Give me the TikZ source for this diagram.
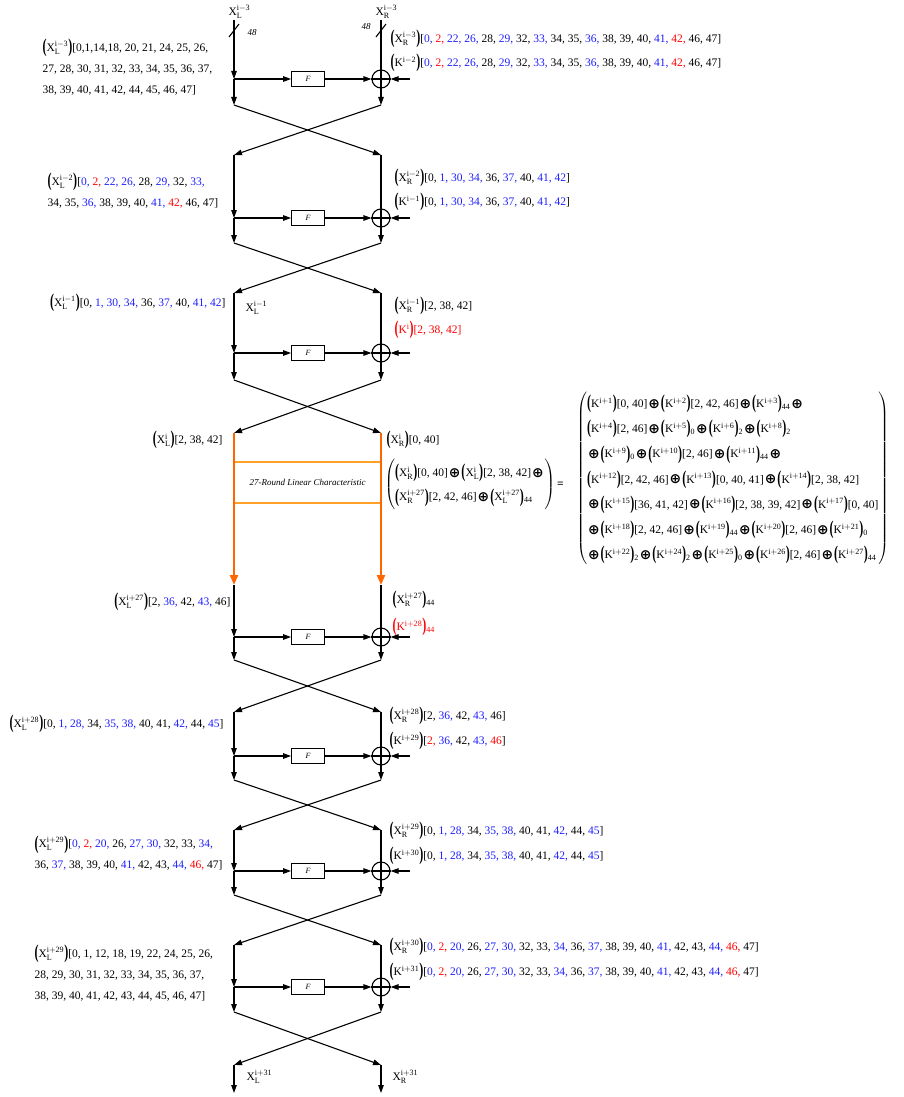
\documentclass[tikz,border=0pt]{standalone}
\usepackage{fontspec}
\usepackage{amsmath}
\setmainfont{Liberation Serif}
\newfontfamily\symf{DejaVu Sans}
\usetikzlibrary{arrows.meta}

\definecolor{lnorange}{RGB}{255,102,0}
\definecolor{bxorange}{RGB}{255,160,40}
\definecolor{nblue}{RGB}{30,30,255}
\definecolor{nred}{RGB}{255,0,0}

\newcommand{\bn}[1]{\textcolor{nblue}{#1}}
\newcommand{\rn}[1]{\textcolor{nred}{#1}}
\newcommand{\lp}{\raisebox{-1.2pt}{\scalebox{1.05}[1.7]{\textbf{(}}}}
\newcommand{\rp}{\raisebox{-1.2pt}{\scalebox{1.05}[1.7]{\textbf{)}}}}
\newcommand{\xo}{\kern1pt\raisebox{-0.6pt}{\scalebox{1.2}{\symf\bfseries\symbol{"2295}}}\kern1pt}
\newcommand{\px}[2]{\lp$\mathrm{X}^{\mathrm{#1}}_{\mathrm{#2}}$\rp}
\newcommand{\pxs}[3]{\lp$\mathrm{X}^{\mathrm{#1}}_{\mathrm{#2}}$\rp\textsubscript{#3}}
\newcommand{\pk}[1]{\lp$\mathrm{K}^{\mathrm{#1}}$\rp}
\newcommand{\pks}[2]{\lp$\mathrm{K}^{\mathrm{#1}}$\rp\textsubscript{#2}}
\newcommand{\vx}[2]{$\mathrm{X}^{\mathrm{#1}}_{\mathrm{#2}}$}

\begin{document}
\begin{tikzpicture}[x=1pt,y=-1pt,line width=1.1pt,
  arr/.style={-{Triangle[length=8pt,width=5.5pt]}},
  oarr/.style={lnorange,line width=2.2pt,-{Triangle[length=10pt,width=8pt]}},
  fbox/.style={draw,line width=0.8pt,minimum width=33pt,minimum height=15pt,inner sep=0pt,font=\fontsize{8}{9}\selectfont\itshape},
  xorc/.style={draw,circle,minimum size=18pt,inner sep=0pt},
  lbl/.style={inner sep=0pt,align=left,font=\fontsize{11.5}{21}\selectfont},
  eqn/.style={inner sep=0pt,font=\fontsize{11.5}{21}\selectfont}]
\useasboundingbox (0,0) rectangle (904,1097);

% rounds: number / top / F / bottom / next top
\foreach \n/\yt/\yf/\yb/\yn in {1/20/79/105/155, 2/155/218/243/293, 3/293/353/380/433,
    27/585/637/660/712, 28/712/756/780/830, 29/830/871/895/945, 30/945/987/1012/1065}{
  \coordinate (lt\n) at (234,\yt);
  \coordinate (rt\n) at (381,\yt);
  \coordinate (lj\n) at (234,\yf);
  \coordinate (lb\n) at (234,\yb);
  \coordinate (rb\n) at (381,\yb);
  \coordinate (ln\n) at (234,\yn);
  \coordinate (rn\n) at (381,\yn);
  \coordinate (k\n) at (410,\yf);
  \node[fbox] (f\n) at (308,\yf) {F};
  \node[xorc] (x\n) at (381,\yf) {};
  \draw (x\n.north) -- (x\n.south) (x\n.west) -- (x\n.east);
  \draw[arr] (lt\n) -- (lj\n);
  \draw[arr] (lj\n) -- (lb\n);
  \draw[arr] (lj\n) -- (f\n);
  \draw[arr] (f\n) -- (x\n);
  \draw[arr] (k\n) -- (x\n);
  \draw (rt\n) -- (x\n);
  \draw[arr] (x\n) -- (rb\n);
  \draw[arr] (lb\n) -- (rn\n);
  \draw[arr] (rb\n) -- (ln\n);
}

% top inputs
\node[lbl,anchor=west] (inl) at (228,12) {\vx{i-3}{L}};
\node[lbl,anchor=west] (inr) at (375,12) {\vx{i-3}{R}};
\coordinate (sla) at (229,37);
\coordinate (slb) at (239,24);
\coordinate (sra) at (376,37);
\coordinate (srb) at (386,24);
\draw (sla) -- (slb);
\draw (sra) -- (srb);
\node[lbl,font=\fontsize{9}{10}\selectfont\itshape] (wl) at (252,33) {48};
\node[lbl,font=\fontsize{9}{10}\selectfont\itshape] (wr) at (366,27) {48};

% round 1
\node[lbl,anchor=west] (tl1) at (42,67) {\px{i-3}{L}[0,1,14,18, 20, 21, 24, 25, 26,\\27, 28, 30, 31, 32, 33, 34, 35, 36, 37,\\38, 39, 40, 41, 42, 44, 45, 46, 47]};
\node[lbl,anchor=west] (tr1) at (390,39) {\px{i-3}{R}[\bn{0,} \rn{2,} \bn{22, 26,} 28, \bn{29,} 32, \bn{33,} 34, 35, \bn{36,} 38, 39, 40, \bn{41,} \rn{42,} 46, 47]};
\node[lbl,anchor=west] (tk1) at (390,63) {\pk{i-2}[\bn{0,} \rn{2,} \bn{22, 26,} 28, \bn{29,} 32, \bn{33,} 34, 35, \bn{36,} 38, 39, 40, \bn{41,} \rn{42,} 46, 47]};

% round 2
\node[lbl,anchor=west] (tl2) at (47,191) {\px{i-2}{L}[\bn{0,} \rn{2,} \bn{22, 26,} 28, \bn{29,} 32, \bn{33,}\\34, 35, \bn{36,} 38, 39, 40, \bn{41,} \rn{42,} 46, 47]};
\node[lbl,anchor=west] (tr2) at (394,178) {\px{i-2}{R}[0, \bn{1, 30, 34,} 36, \bn{37,} 40, \bn{41, 42}]};
\node[lbl,anchor=west] (tk2) at (394,202) {\pk{i-1}[0, \bn{1, 30, 34,} 36, \bn{37,} 40, \bn{41, 42}]};

% round 3
\node[lbl,anchor=east] (tl3) at (226,303) {\px{i-1}{L}[0, \bn{1, 30, 34,} 36, \bn{37,} 40, \bn{41, 42}]};
\node[lbl,anchor=west] (xl3) at (245,308) {\vx{i-1}{L}};
\node[lbl,anchor=west] (tr3) at (394,306) {\px{i-1}{R}[2, 38, 42]};
\node[lbl,anchor=west,nred] (tk3) at (394,330) {\pk{i}[2, 38, 42]};

% linear characteristic
\node[draw=bxorange,line width=1.2pt,minimum width=147pt,minimum height=41pt,inner sep=0pt,
  font=\fontsize{9}{10}\selectfont\itshape] (lin) at (307.5,482.5) {27-Round Linear Characteristic};
\draw[oarr] (ln3) -- (lt27);
\draw[oarr] (rn3) -- (rt27);
\node[lbl,anchor=east] (tli) at (223,440) {\px{i}{L}[2, 38, 42]};
\node[lbl,anchor=west] (tri) at (386,440) {\px{i}{R}[0, 40]};
\node[eqn,anchor=west] (eql) at (384,484) {\renewcommand{\arraystretch}{1.15}$\left(\begin{tabular}{@{}l@{}}
  \px{i}{R}[0, 40]\xo\px{i}{L}[2, 38, 42]\xo\\
  \px{i+27}{R}[2, 42, 46]\xo\pxs{i+27}{L}{44}\end{tabular}\right)$\,\textbf{=}};
\node[eqn,anchor=west] (eqr) at (576,478) {\renewcommand{\arraystretch}{1.2}$\left(\begin{tabular}{@{}l@{}}
  \pk{i+1}[0, 40]\xo\pk{i+2}[2, 42, 46]\xo\pks{i+3}{44}\xo\\
  \pk{i+4}[2, 46]\xo\pks{i+5}{0}\xo\pks{i+6}{2}\xo\pks{i+8}{2}\\
  \xo\pks{i+9}{0}\xo\pk{i+10}[2, 46]\xo\pks{i+11}{44}\xo\\
  \pk{i+12}[2, 42, 46]\xo\pk{i+13}[0, 40, 41]\xo\pk{i+14}[2, 38, 42]\\
  \xo\pk{i+15}[36, 41, 42]\xo\pk{i+16}[2, 38, 39, 42]\xo\pk{i+17}[0, 40]\\
  \xo\pk{i+18}[2, 42, 46]\xo\pks{i+19}{44}\xo\pk{i+20}[2, 46]\xo\pks{i+21}{0}\\
  \xo\pks{i+22}{2}\xo\pks{i+24}{2}\xo\pks{i+25}{0}\xo\pk{i+26}[2, 46]\xo\pks{i+27}{44}\end{tabular}\right)$};

% round i+27
\node[lbl,anchor=east] (tl27) at (231,602) {\px{i+27}{L}[2, \bn{36,} 42, \bn{43,} 46]};
\node[lbl,anchor=west] (tr27) at (392,600) {\pxs{i+27}{R}{44}};
\node[lbl,anchor=west,nred] (tk27) at (392,627) {\pks{i+28}{44}};

% round i+28
\node[lbl,anchor=west] (tl28) at (9,724) {\px{i+28}{L}[0, \bn{1, 28,} 34, \bn{35, 38,} 40, 41, \bn{42,} 44, \bn{45}]};
\node[lbl,anchor=west] (tr28) at (389,716) {\px{i+28}{R}[2, \bn{36,} 42, \bn{43,} 46]};
\node[lbl,anchor=west] (tk28) at (389,741) {\pk{i+29}[\rn{2,} \bn{36,} 42, \bn{43,} \rn{46}]};

% round i+29
\node[lbl,anchor=west] (tl29) at (34,853) {\px{i+29}{L}[\bn{0,} \rn{2,} \bn{20,} 26, \bn{27, 30,} 32, 33, \bn{34,}\\36, \bn{37,} 38, 39, 40, \bn{41,} 42, 43, \bn{44,} \rn{46,} 47]};
\node[lbl,anchor=west] (tr29) at (389,831) {\px{i+29}{R}[0, \bn{1, 28,} 34, \bn{35, 38,} 40, 41, \bn{42,} 44, \bn{45}]};
\node[lbl,anchor=west] (tk29) at (389,856) {\pk{i+30}[0, \bn{1, 28,} 34, \bn{35, 38,} 40, 41, \bn{42,} 44, \bn{45}]};

% round i+30
\node[lbl,anchor=west] (tl30) at (34,973) {\px{i+29}{L}[0, 1, 12, 18, 19, 22, 24, 25, 26,\\28, 29, 30, 31, 32, 33, 34, 35, 36, 37,\\38, 39, 40, 41, 42, 43, 44, 45, 46, 47]};
\node[lbl,anchor=west] (tr30) at (389,947) {\px{i+30}{R}[\bn{0,} \rn{2,} \bn{20,} 26, \bn{27, 30,} 32, 33, \bn{34,} 36, \bn{37,} 38, 39, 40, \bn{41,} 42, 43, \bn{44,} \rn{46,} 47]};
\node[lbl,anchor=west] (tk30) at (389,972) {\pk{i+31}[\bn{0,} \rn{2,} \bn{20,} 26, \bn{27, 30,} 32, 33, \bn{34,} 36, \bn{37,} 38, 39, 40, \bn{41,} 42, 43, \bn{44,} \rn{46,} 47]};

% outputs
\coordinate (outl) at (234,1093);
\coordinate (outr) at (381,1093);
\draw[arr] (ln30) -- (outl);
\draw[arr] (rn30) -- (outr);
\node[lbl,anchor=west] (xol) at (246,1077) {\vx{i+31}{L}};
\node[lbl,anchor=west] (xor) at (392,1077) {\vx{i+31}{R}};
\end{tikzpicture}
\end{document}
